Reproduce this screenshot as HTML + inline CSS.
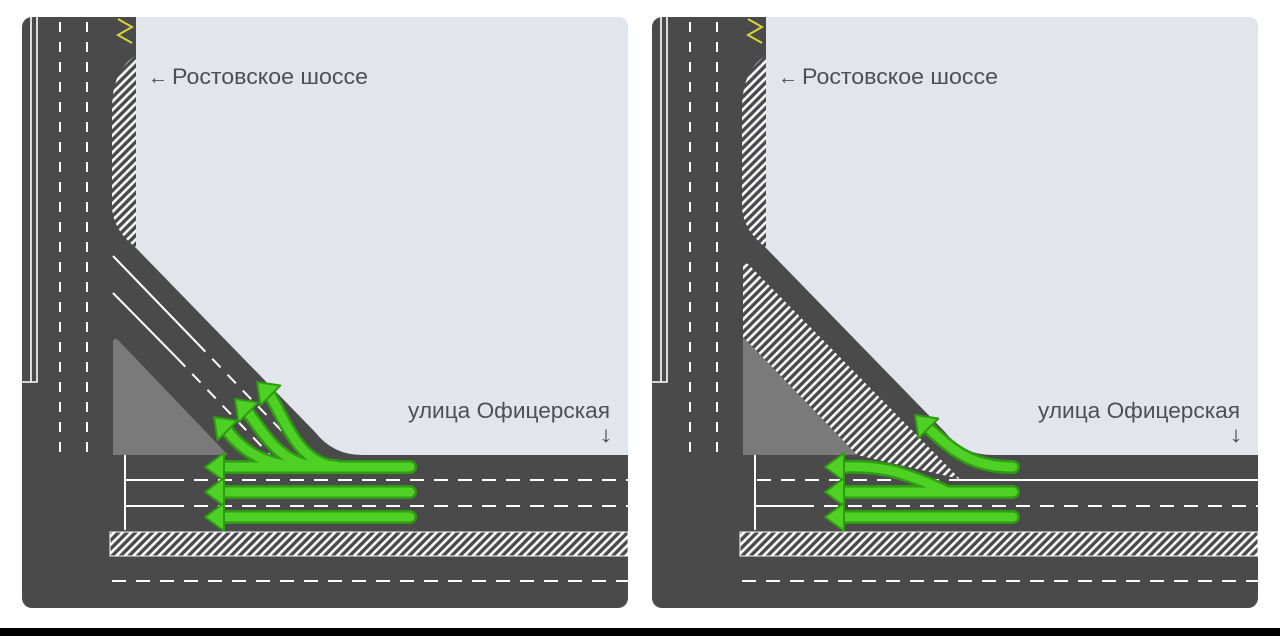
<!DOCTYPE html>
<html><head><meta charset="utf-8"><style>
html,body{margin:0;padding:0;background:#fff;width:1280px;height:636px;overflow:hidden}
svg{display:block}
text{font-family:"Liberation Sans",sans-serif;fill:#4c4f57}
</style></head><body>
<svg width="1280" height="636" viewBox="0 0 1280 636" xmlns="http://www.w3.org/2000/svg">
<defs>
<pattern id="h" width="6" height="6" patternUnits="userSpaceOnUse" patternTransform="rotate(45)">
<rect width="6" height="6" fill="#4a4a4a"/><rect width="2.6" height="6" fill="#fff"/>
</pattern>
<g id="base">
<rect x="22" y="17" width="606" height="591" rx="10" fill="#4a4a4a"/>
<path d="M136,17 V248 L315,432 Q333,455 362,455 H628 V27 Q628,17 618,17 Z" fill="#e2e5ec"/>
<path d="M136,55 C120,66 112,82 112,110 V205 C112,225 124,238 136,248 Z" fill="url(#h)"/>
<polyline points="118,19 132,27 118,35 132,43" fill="none" stroke="#d8d43a" stroke-width="2"/>
<g stroke="#fff" stroke-width="1.6" fill="none">
<path d="M31,17 V382 M37,17 V382 H22"/>
</g>
<g stroke="#fff" stroke-width="2" stroke-dasharray="10 10">
<line x1="60" y1="22" x2="60" y2="455"/><line x1="87" y1="22" x2="87" y2="455"/>
</g>
<rect x="110" y="532" width="518" height="24" fill="url(#h)" stroke="#fff" stroke-width="1"/>
<line x1="112" y1="581" x2="628" y2="581" stroke="#fff" stroke-width="2" stroke-dasharray="14 10"/>
<line x1="125" y1="455" x2="125" y2="530" stroke="#fff" stroke-width="2"/>
<text x="148" y="84" font-size="21" font-weight="bold" fill="#555860" textLength="20" lengthAdjust="spacingAndGlyphs">←</text>
<text x="172" y="84" font-size="22" textLength="196" lengthAdjust="spacingAndGlyphs">Ростовское шоссе</text>
<text x="408" y="418" font-size="22" textLength="202" lengthAdjust="spacingAndGlyphs">улица Офицерская</text>
<text x="599" y="442" font-size="22" font-weight="bold" fill="#555860" textLength="14" lengthAdjust="spacingAndGlyphs">↓</text>
</g>
<g id="hd"><polygon points="0,0 19,-14 19,14" /></g>
</defs>

<!-- LEFT PANEL -->
<use href="#base"/>
<path d="M113,343 Q113,337 118,340 L228,455 H113 Z" fill="#7a7a7a"/>
<g stroke="#fff" stroke-width="2" fill="none">
<line x1="113" y1="256" x2="197" y2="343"/>
<line x1="197" y1="343" x2="305" y2="455" stroke-dasharray="12 10"/>
<line x1="113" y1="293" x2="177" y2="358"/>
<line x1="177" y1="358" x2="270" y2="455" stroke-dasharray="12 10"/>
<line x1="125" y1="480" x2="170" y2="480"/><line x1="170" y1="480" x2="628" y2="480" stroke-dasharray="14 10"/>
<line x1="125" y1="506" x2="170" y2="506"/><line x1="170" y1="506" x2="628" y2="506" stroke-dasharray="14 10"/>
</g>
<g fill="none" stroke-linecap="round">
<g stroke="#2f9a14" stroke-width="14">
<path d="M410,467 H222 M410,492 H222 M410,517 H222"/>
<path d="M300,466 C262,466 240,448 226,429"/>
<path d="M318,466 C280,466 262,430 247,411"/>
<path d="M336,466 C298,466 282,412 269,394"/>
</g>
<g stroke="#4fd024" stroke-width="9">
<path d="M410,467 H222 M410,492 H222 M410,517 H222"/>
<path d="M300,466 C262,466 240,448 226,429"/>
<path d="M318,466 C280,466 262,430 247,411"/>
<path d="M336,466 C298,466 282,412 269,394"/>
</g>
</g>
<g fill="#4fd024" stroke="#2f9a14" stroke-width="2" stroke-linejoin="round">
<use href="#hd" transform="translate(205,467)"/>
<use href="#hd" transform="translate(205,492)"/>
<use href="#hd" transform="translate(205,517)"/>
<use href="#hd" transform="translate(214,417) rotate(45)"/>
<use href="#hd" transform="translate(235,399) rotate(45)"/>
<use href="#hd" transform="translate(257,382) rotate(45)"/>
</g>

<!-- RIGHT PANEL -->
<use href="#base" transform="translate(630,0)"/>
<path d="M743,268 Q743,262 748,264 L960,479 L857,455 L743,337 Z" fill="url(#h)"/>
<path d="M743,337 L857,455 H743 Z" fill="#7a7a7a"/>
<g stroke="#fff" stroke-width="2" fill="none">
<line x1="757" y1="480" x2="957" y2="480" stroke-dasharray="14 10"/>
<line x1="957" y1="480" x2="1258" y2="480"/>
<line x1="755" y1="506" x2="800" y2="506"/><line x1="800" y1="506" x2="1258" y2="506" stroke-dasharray="14 10"/>
</g>
<g fill="none" stroke-linecap="round">
<g stroke="#2f9a14" stroke-width="14">
<path d="M1013,492 H842 M1013,517 H842"/>
<path d="M1013,467 C968,467 950,447 927,427"/>
<path d="M842,467 C880,465 905,472 945,491"/>
</g>
<g stroke="#4fd024" stroke-width="9">
<path d="M1013,492 H842 M1013,517 H842"/>
<path d="M1013,467 C968,467 950,447 927,427"/>
<path d="M842,467 C880,465 905,472 945,491"/>
</g>
</g>
<g fill="#4fd024" stroke="#2f9a14" stroke-width="2" stroke-linejoin="round">
<use href="#hd" transform="translate(825,467)"/>
<use href="#hd" transform="translate(825,492)"/>
<use href="#hd" transform="translate(825,517)"/>
<use href="#hd" transform="translate(915,415) rotate(45)"/>
</g>

<rect x="0" y="628" width="1280" height="8" fill="#000"/>
</svg>
</body></html>
